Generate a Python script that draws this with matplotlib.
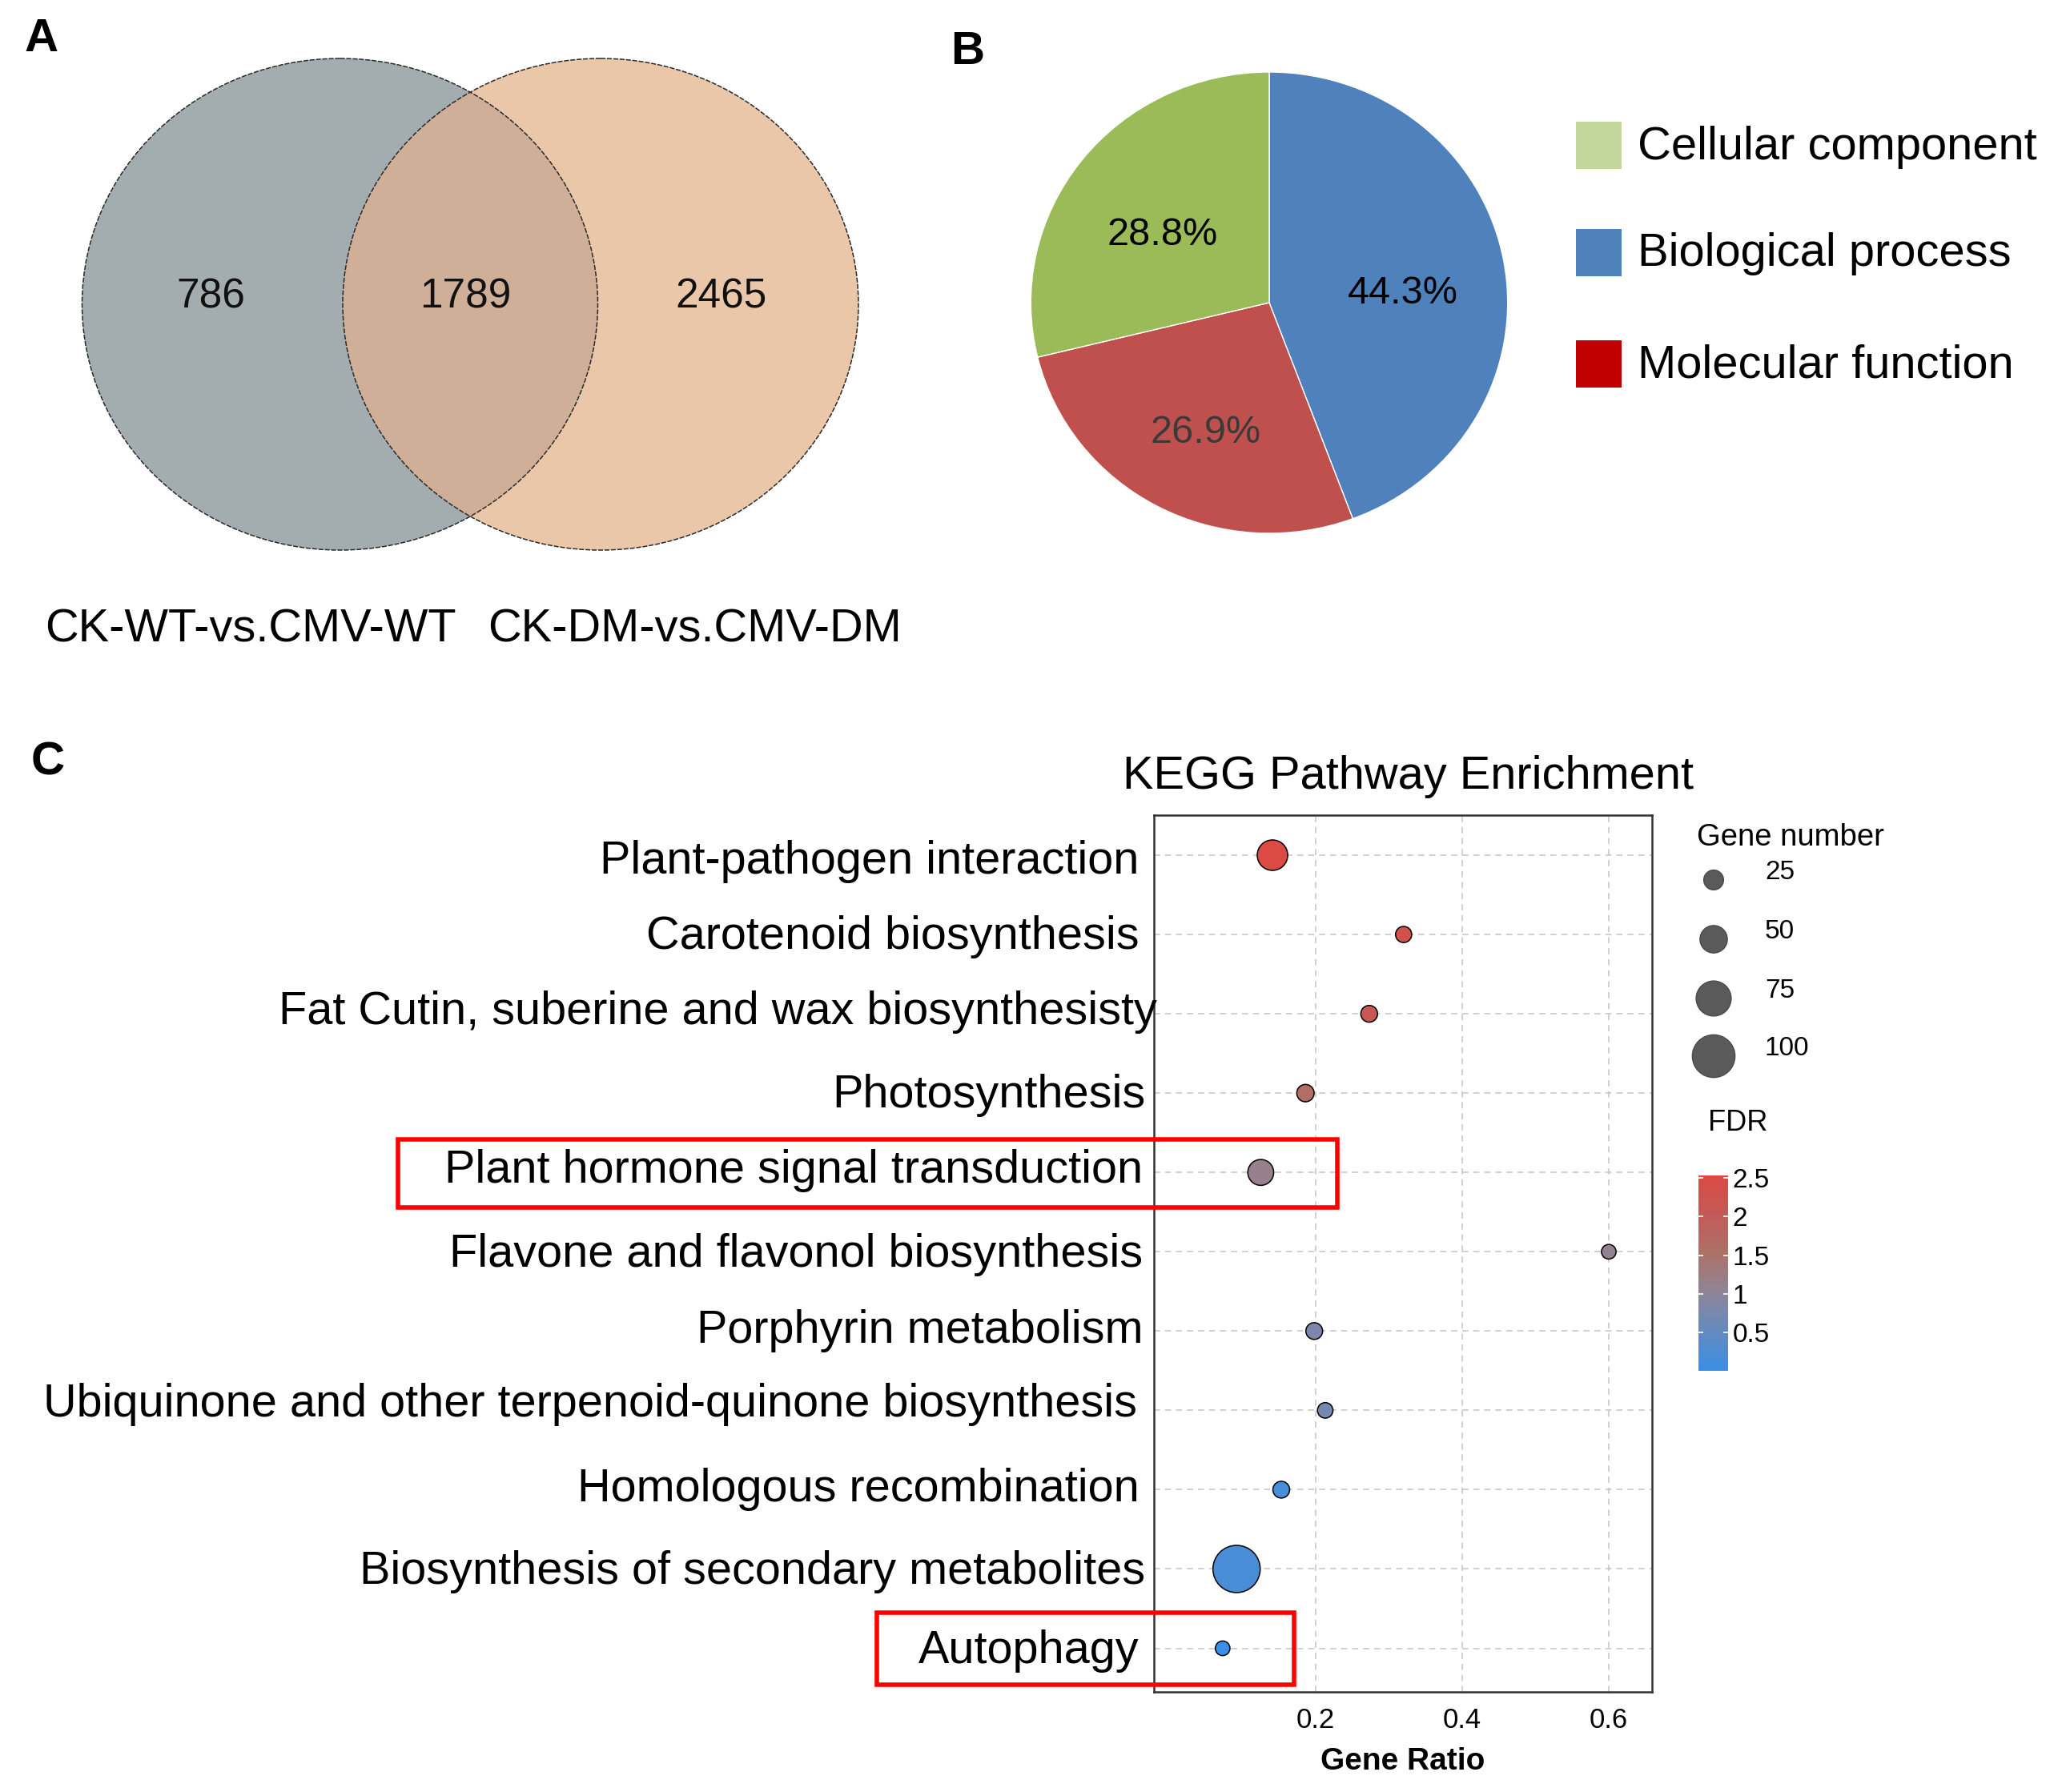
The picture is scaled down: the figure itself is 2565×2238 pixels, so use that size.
import matplotlib
matplotlib.use('Agg')
import matplotlib.pyplot as plt
import matplotlib.transforms as mtransforms
import numpy as np
from matplotlib.patches import Ellipse, Rectangle
from matplotlib.colors import LinearSegmentedColormap, Normalize

plt.rcParams['font.family'] = ['Liberation Sans', 'DejaVu Sans']

### Donnees

# A : Venn
venn_sets = ['CK-WT-vs.CMV-WT', 'CK-DM-vs.CMV-DM']
venn_counts = [786, 1789, 2465]   # gauche seul, commun, droite seul

# B : GO
go_cats = ['Biological process', 'Molecular function', 'Cellular component']
go_pct = [44.3, 26.9, 28.8]
go_colors = ['#4F81BD', '#C0504D', '#9BBB59']
leg_cats = ['Cellular component', 'Biological process', 'Molecular function']
leg_colors = ['#C3D69B', '#4F81BD', '#C00000']

# C : KEGG
pathways = ['Plant-pathogen interaction', 'Carotenoid biosynthesis',
            'Fat Cutin, suberine and wax biosynthesisty', 'Photosynthesis',
            'Plant hormone signal transduction', 'Flavone and flavonol biosynthesis',
            'Porphyrin metabolism', 'Ubiquinone and other terpenoid-quinone biosynthesis',
            'Homologous recombination', 'Biosynthesis of secondary metabolites',
            'Autophagy']
gene_ratio = [0.141, 0.320, 0.273, 0.186, 0.125, 0.600, 0.198, 0.213, 0.153, 0.092, 0.073]
gene_count = [60, 13, 15, 17, 45, 8, 15, 11, 15, 115, 8]
fdr = [2.54, 2.3, 2.1, 1.6, 1.15, 1.1, 0.8, 0.7, 0.15, 0.2, 0.0]
size_leg = [25, 50, 75, 100]

W, H = 2565, 2238
DPI = 100

def pt(px):
    return px * 72.0 / DPI

def msize(v):
    d = 15.2 + 0.381 * np.asarray(v, dtype=float)   # diametre en px
    return pt(d) ** 2

fig = plt.figure(figsize=(W / DPI, H / DPI), dpi=DPI)

# calque en pixels pour les annotations
ov = fig.add_axes([0, 0, 1, 1], zorder=10)
ov.set_xlim(0, W)
ov.set_ylim(H, 0)
ov.axis('off')
ov.patch.set_visible(False)

### A - Venn
cL, cR, cy = 424.5, 750.0, 380.0
rx, ry = 322.0, 307.0
eL = Ellipse((cL, cy), 2 * rx, 2 * ry, facecolor='#A3ADB0', edgecolor='none')
eR = Ellipse((cR, cy), 2 * rx, 2 * ry, facecolor='#EBC7A9', edgecolor='none')
ov.add_patch(eL)
ov.add_patch(eR)
eI = Ellipse((cL, cy), 2 * rx, 2 * ry, facecolor='#CFAF97', edgecolor='none')
ov.add_patch(eI)
eI.set_clip_path(eR)
for c in (cL, cR):
    ov.add_patch(Ellipse((c, cy), 2 * rx, 2 * ry, fill=False, edgecolor='#2a2a2a',
                         lw=1.1, linestyle=(0, (4, 1.2))))
for x, n in zip([263, 581, 900], venn_counts):
    ov.text(x, 371, str(n), fontsize=37, ha='center', va='center', color='#111111')
for x, lab in zip([313, 868], venn_sets):
    ov.text(x, 786, lab, fontsize=41.6, ha='center', va='center')

### B - Camembert
pcx, pcy, prx, pry = 1585.0, 378.0, 297.7, 288.0
axp = fig.add_axes([(pcx - prx) / W, 1 - (pcy + pry) / H, 2 * prx / W, 2 * pry / H])
wedges, txts, autotxts = axp.pie(go_pct, colors=go_colors, startangle=90, counterclock=False,
                                 autopct='%.1f%%', pctdistance=0.57,
                                 wedgeprops=dict(edgecolor='white', linewidth=1.0),
                                 textprops=dict(fontsize=35))
autotxts[1].set_color('#3a3a3a')
for t in autotxts:
    x, y = t.get_position()
    t.set_position((x, y - 0.06))
axp.set_xlim(-1.0, 1.0)
axp.set_ylim(-1.0, 1.0)
axp.set_aspect('auto')
axp.axis('off')

for yc, lab, col in zip([181.6, 315.0, 454.0], leg_cats, leg_colors):
    ov.add_patch(Rectangle((1968, yc - 29.5), 57, 59, facecolor=col, edgecolor='none'))
    ov.text(2045, yc + 2, lab, fontsize=41.7, ha='left', va='center')

### C - KEGG
cmap = LinearSegmentedColormap.from_list('fdr', [(0.0, '#3A8FE6'), (0.4, '#8E8598'),
                                                 (0.6, '#AC7268'), (0.8, '#C45A58'),
                                                 (1.0, '#DC4A44')])
norm = Normalize(vmin=min(fdr), vmax=max(fdr))

axL, axR, axT, axB = 1441, 2063, 1017.5, 2113
ax = fig.add_axes([axL / W, 1 - axB / H, (axR - axL) / W, (axB - axT) / H])
yy = np.arange(len(pathways))
ax.set_axisbelow(True)
ax.grid(True, color='#C4C4C4', linestyle=(0, (5, 4)), linewidth=1.1)
sc = ax.scatter(gene_ratio, yy, s=msize(gene_count), c=fdr, cmap=cmap, norm=norm,
                edgecolors='black', linewidths=1.1, zorder=3)
ax.set_xlim(-0.0208, 0.659)
ax.set_ylim(len(pathways) - 1 + 0.55, -0.51)
ax.set_yticks(yy)
ax.set_yticklabels([])
ax.set_xticks([0.2, 0.4, 0.6])
ax.set_xticklabels(['0.2', '0.4', '0.6'], fontsize=25)
ax.tick_params(axis='y', length=0)
ax.tick_params(axis='x', length=0, pad=14)
ax.set_xlabel('Gene Ratio', fontsize=28, fontweight='bold', labelpad=12)
for s in ax.spines.values():
    s.set_color('#333333')
    s.set_linewidth(1.8)

# libelles des voies, legerement decales comme sur la figure d'origine (px)
nudge_x = [-3, -2, 20, 5, 2, 2, 2, -5, -2, 5, -2]
nudge_y = [8, 3, -2, 3, -2, 4, 0, -7, 0, 4, 3]
ylab_tr = mtransforms.blended_transform_factory(ax.transAxes, ax.transData)
for i, lab in enumerate(pathways):
    off = mtransforms.ScaledTranslation((nudge_x[i] - 16) / DPI, -nudge_y[i] / DPI,
                                        fig.dpi_scale_trans)
    ax.text(0, yy[i], lab, fontsize=41.5, ha='right', va='center',
            transform=ylab_tr + off, clip_on=False)

ov.text(1759, 970, 'KEGG Pathway Enrichment', fontsize=41.6, ha='center', va='center')

# legende taille
ov.text(2119, 1046, 'Gene number', fontsize=27.5, ha='left', va='center')
ov.scatter([2140] * len(size_leg), [1099, 1173, 1247, 1319], s=msize(size_leg),
           color='#5A5A5A', edgecolors='#4A4A4A', linewidths=1.0)
for yv, v in zip([1099, 1173, 1247, 1319], size_leg):
    ov.text(2204, yv - 9, str(v), fontsize=24, ha='left', va='center')

# barre de couleur FDR
ov.text(2133, 1402, 'FDR', fontsize=26, ha='left', va='center')
cax = fig.add_axes([2121 / W, 1 - 1712 / H, 37 / W, 244.5 / H])
cb = fig.colorbar(sc, cax=cax, ticks=[0.5, 1, 1.5, 2, 2.5])
cb.ax.set_yticklabels(['0.5', '1', '1.5', '2', '2.5'])
cb.outline.set_visible(False)
cb.ax.tick_params(direction='in', left=True, right=True, color='white', length=4.5,
                  width=1.2, labelsize=24, pad=4)

# cadres rouges
ov.add_patch(Rectangle((497, 1423), 1670 - 497, 1508 - 1423, fill=False,
                       edgecolor='#FF0000', lw=4))
ov.add_patch(Rectangle((1094.5, 2014), 1616 - 1094.5, 2104 - 2014, fill=False,
                       edgecolor='#FF0000', lw=4))

# lettres des panneaux
for x, y, l in [(52, 49, 'A'), (1208, 65, 'B'), (60, 953, 'C')]:
    ov.text(x, y, l, fontsize=42, fontweight='bold', ha='center', va='center')

fig.savefig('out.png', dpi=DPI)
